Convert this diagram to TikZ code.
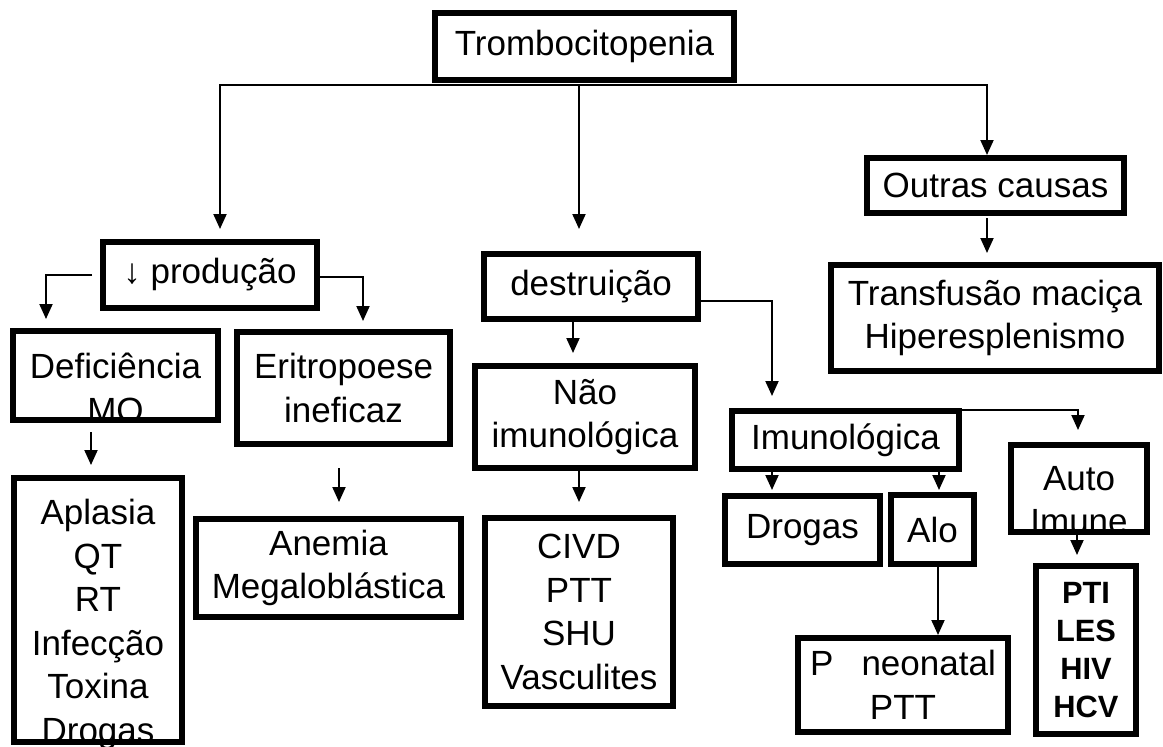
\documentclass[tikz,border=0pt]{standalone}
\usepackage{fontspec}
\setmainfont{Liberation Sans}
\usetikzlibrary{arrows.meta,calc}

\begin{document}
\begin{tikzpicture}[x=1pt,y=-1pt,
box/.style={draw,line width=5.6pt,align=center,inner sep=0pt,font=\fontsize{35}{43.6}\selectfont},
sz/.style 2 args={minimum width=#1pt,minimum height=#2pt},
txt/.style={align=center,inner sep=0pt,font=\fontsize{35}{43.6}\selectfont},
arr/.style={-{Triangle[length=15pt,width=13pt]},line width=2pt}]
\useasboundingbox (0,0) rectangle (1163,747);
% texts that run over their frames
\node[txt] (deftxt) at (115.5,388) {Deficiência\\MO};
\node[txt] (apltxt) at (98,624.4) {Aplasia\\QT\\RT\\Infecção\\Toxina\\Drogas};
\node[txt] (autotxt) at (1079,500) {Auto\\Imune};
% boxes
\node[box,sz={299.4}{67.4}] (trombo) at (584.5,46.5) {Trombocitopenia};
\node[box,sz={214.4}{66.4}] (prod) at (210,275) {↓ produção};
\node[box,sz={214.4}{65.4}] (destr) at (591,286.5) {destruição};
\node[box,sz={257.4}{55.4}] (outras) at (995.5,185.5) {Outras causas};
\node[box,sz={328.4}{106.4}] (transf) at (995,318) {Transfusão maciça\\Hiperesplenismo};
\node[box,sz={205.4}{89.4}] (defic) at (115.5,375.5) {};
\node[box,sz={213.4}{112.4}] (eritro) at (343.5,388) {Eritropoese\\ineficaz};
\node[box,sz={168.4}{264.4}] (aplasia) at (98,610) {};
\node[box,sz={265.4}{98.4}] (anemia) at (328.5,568) {Anemia\\Megaloblástica};
\node[box,sz={220.4}{102.4}] (naoimuno) at (585,417) {Não\\imunológica};
\node[box,sz={188.4}{188.4}] (civd) at (579,612) {CIVD\\PTT\\SHU\\Vasculites};
\node[box,sz={227.4}{58.4}] (imuno) at (845.5,440) {Imunológica};
\node[box,sz={155.4}{68.4}] (drogas) at (802.5,530) {Drogas};
\node[box,sz={83.4}{69.4}] (alo) at (932.5,529.5) {Alo};
\node[box,sz={136.4}{87.4}] (auto) at (1079,488.5) {};
\node[box,sz={210.4}{94.4}] (pneo) at (903,685) {P\hspace{28pt}neonatal\\PTT};
\node[box,sz={100.4}{168.4},font=\fontsize{30.8}{38.3}\selectfont\bfseries] (pti) at (1086,650) {PTI\\LES\\HIV\\HCV};
% arrows
\draw[arr] ($(trombo.south)+(0,2)$) -| ($(prod.north)+(10,-10)$);
\draw[arr] ($(trombo.south)+(-5.5,2)$) -- ($(destr.north)+(-12,-22)$);
\draw[arr] ($(trombo.south)+(0,2)$) -| ($(outras.north)+(-8.5,0)$);
\draw[arr] ($(outras.south)+(-8.5,2)$) -- ($(transf.north)+(-8,-9)$);
\draw[arr] ($(prod.west)+(-8,0)$) -| ($(defic.north)+(-69.5,-9)$);
\draw[arr] ($(prod.east)+(0,2)$) -| ($(eritro.north)+(19.5,-8)$);
\draw[arr] ($(defic.south)+(-24.5,9)$) -- ($(aplasia.north)+(-7,-10)$);
\draw[arr] ($(eritro.south)+(-4.5,21)$) -- ($(anemia.north)+(10.5,-14)$);
\draw[arr] ($(destr.south)+(-18,0)$) -- ($(naoimuno.north)+(-12,-10)$);
\draw[arr] ($(destr.east)+(0,14.5)$) -| ($(imuno.north)+(-73.5,-12)$);
\draw[arr] ($(naoimuno.south)+(-6,0)$) -- ($(civd.north)+(0,-13)$);
\draw[arr] ($(imuno.south)+(-73.5,0)$) -- ($(drogas.north)+(-30.5,-3)$);
\draw[arr] ($(imuno.south)+(93.5,0)$) -- ($(alo.north)+(6.5,-2)$);
\draw[arr] ($(imuno.north east)+(0,2)$) -| ($(auto.north)+(-1,-12)$);
\draw[arr] ($(alo.south)+(5.5,0)$) -- ($(pneo.north)+(35,0)$);
\draw[arr] ($(auto.south)+(-2,0)$) -- ($(pti.north)+(-9,-8)$);
\end{tikzpicture}
\end{document}
